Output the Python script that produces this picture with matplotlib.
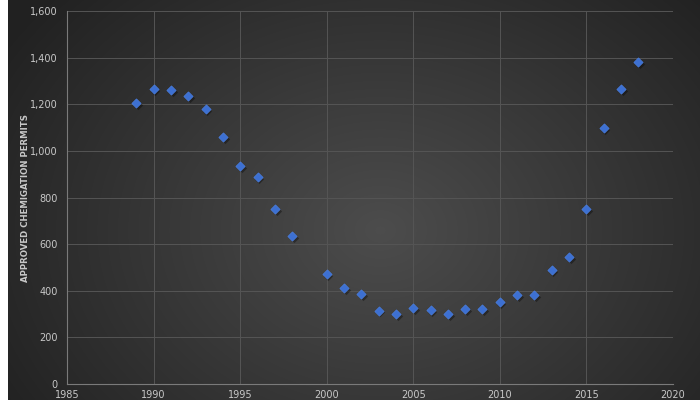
import matplotlib.pyplot as plt
import numpy as np

years = [1989, 1990, 1991, 1992, 1993, 1994, 1995, 1996, 1997, 1998,
         2000, 2001, 2002, 2003, 2004, 2005, 2006, 2007, 2008, 2009,
         2010, 2011, 2012, 2013, 2014, 2015, 2016, 2017, 2018]
permits = [1205, 1265, 1261, 1235, 1180, 1060, 935, 888, 751, 635,
           472, 412, 384, 315, 300, 326, 318, 300, 322, 322,
           352, 382, 382, 489, 545, 751, 1098, 1265, 1381]

fig = plt.figure(figsize=(7, 4), dpi=100)

# radial gradient background
bg = fig.add_axes([0, 0, 1, 1], zorder=-2)
yy, xx = np.mgrid[0:400, 0:700]
r = np.sqrt(((xx - 380) / 420.0) ** 2 + ((yy - 230) / 330.0) ** 2)
shade = np.clip(0.30 - 0.16 * r, 0.13, 0.30)
img = np.dstack([shade, shade, shade])
img[:, :8, :] = 1.0
bg.imshow(img, aspect='auto', extent=[0, 1, 0, 1], origin='upper')
bg.axis('off')

ax = fig.add_axes([0.096, 0.04, 0.865, 0.9325])
ax.patch.set_alpha(0)

# shadow then markers
ax.scatter(np.array(years) + 0.1, np.array(permits) - 8, marker='D', s=22,
           color='black', alpha=0.35, linewidths=0, zorder=3)
ax.scatter(years, permits, marker='D', s=22, color='#3d70d2',
           edgecolors='#4a7fe0', linewidths=0.5, zorder=4)

ax.set_xlim(1985, 2020)
ax.set_ylim(0, 1600)
ax.set_xticks(range(1985, 2021, 5))
ax.set_yticks(range(0, 1601, 200))
ax.set_yticklabels(['{:,}'.format(v) for v in range(0, 1601, 200)])
ax.grid(True, color='#555555', linewidth=0.7)
ax.set_axisbelow(True)

for s in ['top', 'right']:
    ax.spines[s].set_visible(False)
for s in ['left', 'bottom']:
    ax.spines[s].set_color('#7a7a7a')
    ax.spines[s].set_linewidth(0.8)

ax.tick_params(length=0, colors='#c8c8c8', labelsize=7)
ax.tick_params(axis='y', pad=7)
ax.tick_params(axis='x', pad=4)
ax.set_ylabel('APPROVED CHEMIGATION PERMITS', color='#c8c8c8',
              fontsize=6.2, fontweight='bold')
ax.yaxis.set_label_coords(-0.062, 0.5)

fig.savefig('out.png', dpi=100)
